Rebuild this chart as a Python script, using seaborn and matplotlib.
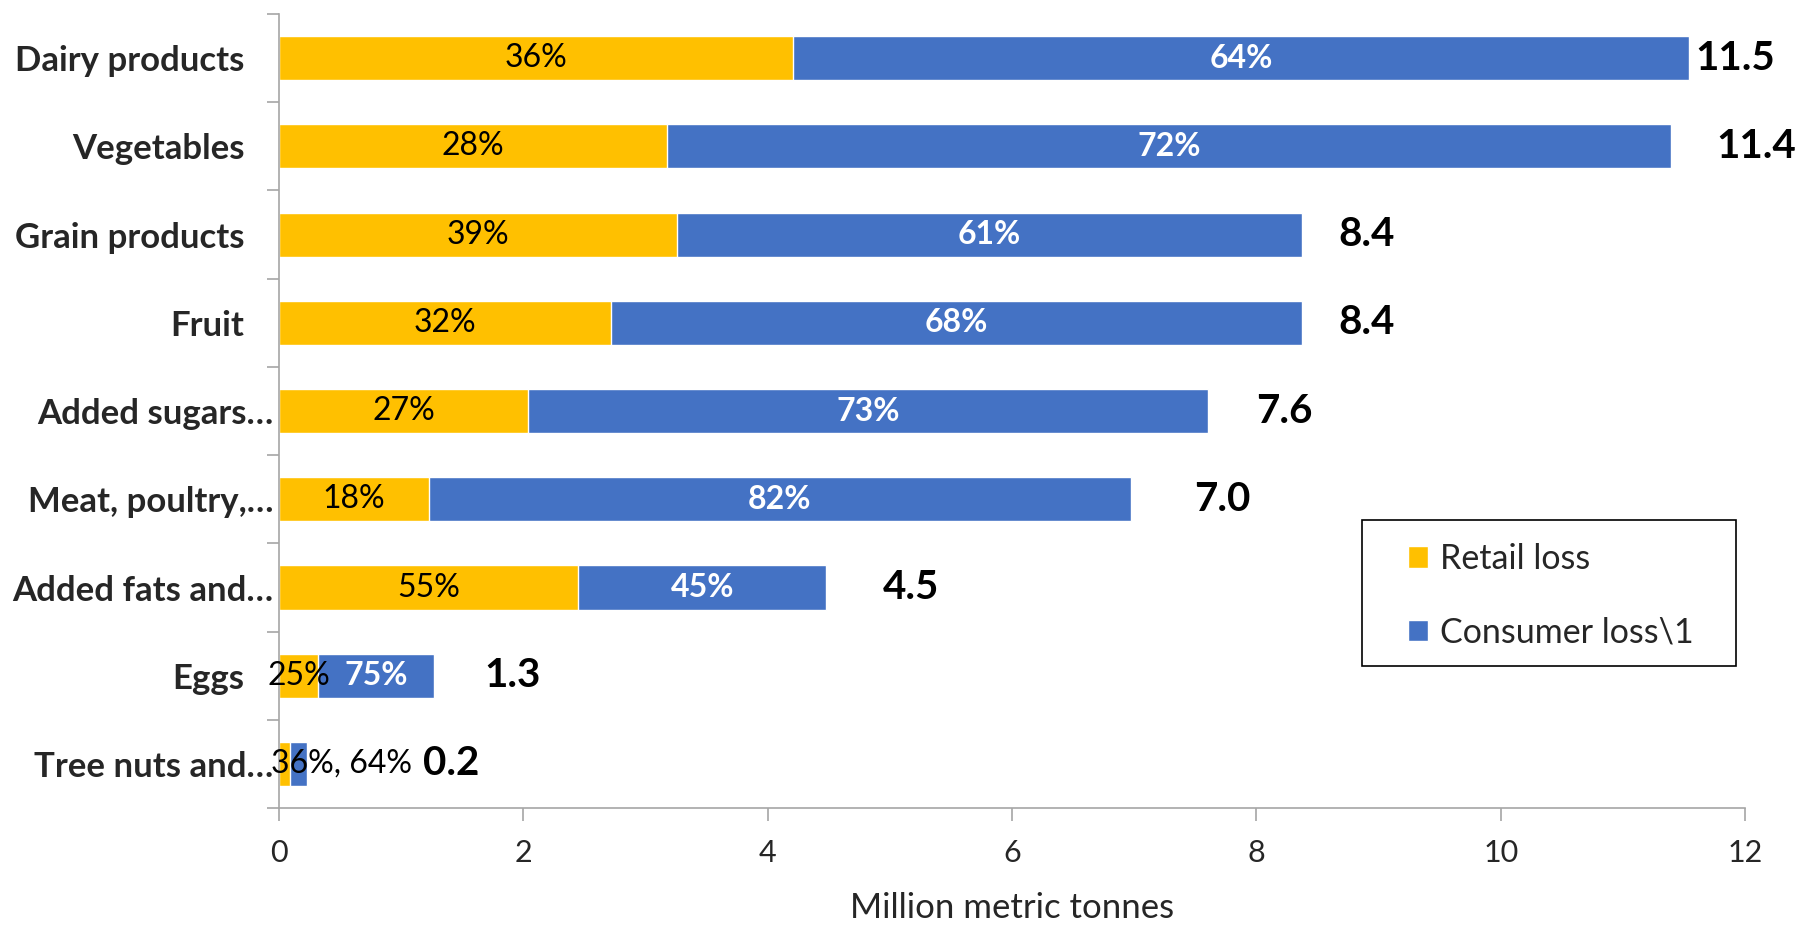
import numpy as np
import matplotlib
matplotlib.use("Agg")
import matplotlib.pyplot as plt
import matplotlib.transforms as mtransforms
from matplotlib.patches import Patch, Rectangle
from matplotlib.ticker import FixedLocator
import seaborn as sns

# ----------------------------------------------------
# Data (million metric tonnes)
# ----------------------------------------------------
categories = ["Dairy products", "Vegetables", "Grain products", "Fruit",
              "Added sugars\u2026", "Meat, poultry,\u2026", "Added fats and\u2026",
              "Eggs", "Tree nuts and\u2026"]
retail = [4.21, 3.18, 3.26, 2.72, 2.04, 1.23, 2.45, 0.32, 0.09]
consumer = [7.33, 8.21, 5.11, 5.65, 5.56, 5.74, 2.03, 0.95, 0.14]
retail_pct = ["36%", "28%", "39%", "32%", "27%", "18%", "55%", "25%", ""]
consumer_pct = ["64%", "72%", "61%", "68%", "73%", "82%", "45%", "75%", ""]
total_labels = ["11.5", "11.4", "8.4", "8.4", "7.6", "7.0", "4.5", "1.3", "0.2"]
small_label = "36%, 64%"   # tree nuts, label placed beside the bar
total_pad = [0.05, 0.37, 0.30, 0.30, 0.40, 0.52, 0.46, 0.41, 0.95]

YELLOW = "#FFC000"
BLUE = "#4472C4"
GRAY = "#A6A6A6"

totals = np.array(retail) + np.array(consumer)

sns.set_theme(style="white")
plt.rcParams['font.family'] = ['Lato', 'DejaVu Sans']

fig = plt.figure(figsize=(18.16, 9.31), dpi=100)
ax = fig.add_axes([0.1536, 0.132, 0.8074, 0.853])

# stacked horizontal bars: full length in blue, retail part in yellow on top
sns.barplot(x=totals, y=categories, color=BLUE, width=0.5, saturation=1,
            orient="h", ax=ax)
sns.barplot(x=retail, y=categories, color=YELLOW, width=0.5, saturation=1,
            orient="h", ax=ax)

# ----------------------------------------------------
# Labels on bars
# ----------------------------------------------------
for i in range(len(categories)):
    r = retail[i]
    t = totals[i]
    if retail_pct[i]:
        ax.text(r / 2, i, retail_pct[i], ha="center", va="center",
                fontsize=23, color="black")
        ax.text(r + (t - r) / 2, i, consumer_pct[i], ha="center", va="center",
                fontsize=23, color="white", fontweight="bold")
    else:
        ax.text(t / 2 + 0.4, i, small_label, ha="center", va="center",
                fontsize=23, color="black")
    ax.text(t + total_pad[i], i, total_labels[i], ha="left", va="center",
            fontsize=29, color="black", fontweight="bold")

# ----------------------------------------------------
# Axes styling
# ----------------------------------------------------
ax.set_xlim(0, 12)
ax.set_ylim(len(categories) - 0.5, -0.5)
ax.set_xticks(np.arange(0, 13, 2))
ax.yaxis.set_minor_locator(FixedLocator(np.arange(-0.5, len(categories), 1)))

for side in ["top", "right"]:
    ax.spines[side].set_visible(False)
for side in ["left", "bottom"]:
    ax.spines[side].set_color(GRAY)
    ax.spines[side].set_linewidth(1.2)

ax.tick_params(axis="x", which="major", direction="out", length=9, width=1.2,
               color=GRAY, labelsize=22, pad=13, bottom=True)
ax.tick_params(axis="y", which="major", length=0, labelsize=25, pad=4)
ax.tick_params(axis="y", which="minor", direction="out", length=9, width=1.2,
               color=GRAY, left=True)
# full-length labels sit further from the axis than the truncated ones
shift = mtransforms.ScaledTranslation(-21 / 72, 0, fig.dpi_scale_trans)
for lbl in ax.get_yticklabels():
    lbl.set_fontweight("bold")
    if not lbl.get_text().endswith("\u2026"):
        lbl.set_transform(lbl.get_transform() + shift)

ax.set_xlabel("Million metric tonnes", fontsize=25, labelpad=18)
ax.set_ylabel("")

# legend: entries without frame, box drawn separately
handles = [Patch(facecolor=YELLOW, label="Retail loss"),
           Patch(facecolor=BLUE, label="Consumer loss\\1")]
leg = ax.legend(handles=handles, loc="upper left",
                bbox_to_anchor=(0.770, 0.334), frameon=False,
                fontsize=24.5, handlelength=0.6, handleheight=0.6,
                labelspacing=1.22, borderpad=0, handletextpad=0.35,
                borderaxespad=0)
ax.add_patch(Rectangle((0.739, 0.179), 0.255, 0.184, transform=ax.transAxes,
                       fill=False, edgecolor="black", linewidth=1.2,
                       clip_on=False))

fig.savefig("out.png", dpi=100)
